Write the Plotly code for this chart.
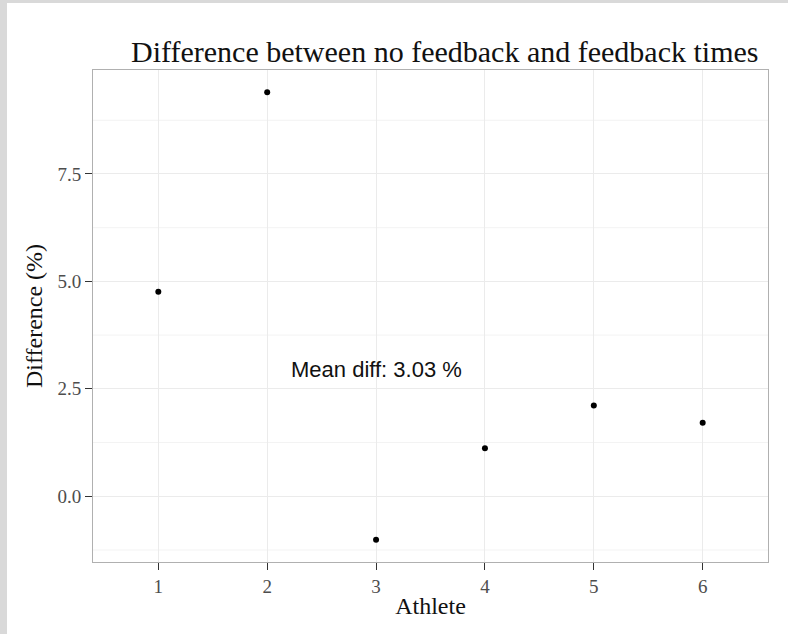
import plotly.graph_objects as go

athletes = [1, 2, 3, 4, 5, 6]
difference = [4.76, 9.40, -1.01, 1.12, 2.11, 1.71]
y_tick_vals = [0.0, 2.5, 5.0, 7.5]
y_tick_text = ["0.0", "2.5", "5.0", "7.5"]
y_minor_vals = [-1.25, 1.25, 3.75, 6.25, 8.75]
x_tick_text = ["1", "2", "3", "4", "5", "6"]
title_text = "Difference between no feedback and feedback times"
mean_label = "Mean diff: 3.03 %"

W, H = 788, 634
L, R, T, B = 93, 20, 70, 72
pw, ph = W - L - R, H - T - B

def px_x(p):
    return (p - L) / pw

def px_y(p):
    return (H - B - p) / ph

serif = "Liberation Serif, Times New Roman, serif"
sans = "Liberation Sans, Arial, sans-serif"

fig = go.Figure()
fig.add_trace(go.Scatter(
    x=athletes, y=difference, mode="markers",
    marker=dict(color="black", size=6),
    showlegend=False, hoverinfo="skip"))

shapes = []
for v in y_minor_vals:
    shapes.append(dict(type="line", xref="paper", yref="y", x0=0, x1=1, y0=v, y1=v,
                       line=dict(color="#f3f3f3", width=1), layer="below"))
shapes.append(dict(type="rect", xref="paper", yref="paper",
                   x0=px_x(0), x1=px_x(7), y0=px_y(H), y1=px_y(0),
                   fillcolor="#d9d9d9", line=dict(width=0), layer="above"))
shapes.append(dict(type="rect", xref="paper", yref="paper",
                   x0=px_x(0), x1=px_x(W), y0=px_y(3), y1=px_y(0),
                   fillcolor="#d9d9d9", line=dict(width=0), layer="above"))

fig.update_layout(
    width=W, height=H,
    margin=dict(l=L, r=R, t=T, b=B),
    paper_bgcolor="white", plot_bgcolor="white",
    shapes=shapes,
    xaxis=dict(range=[0.4, 6.6], tickvals=athletes, ticktext=x_tick_text,
               showgrid=True, gridcolor="#ebebeb", gridwidth=1, zeroline=False,
               showline=True, linecolor="#b0b0b0", linewidth=1, mirror=True,
               ticks="outside", ticklen=7, tickcolor="#333333",
               tickfont=dict(family=serif, size=19, color="#4d4d4d"),
               title=dict(text="Athlete", font=dict(family=serif, size=24, color="#111"),
                          standoff=1)),
    yaxis=dict(range=[-1.53, 9.92], tickvals=y_tick_vals, ticktext=y_tick_text,
               showgrid=True, gridcolor="#ebebeb", gridwidth=1, zeroline=False,
               showline=True, linecolor="#b0b0b0", linewidth=1, mirror=True,
               ticks="outside", ticklen=7, tickcolor="#333333",
               tickfont=dict(family=serif, size=19, color="#4d4d4d"),
               title=dict(text="Difference (%)", font=dict(family=serif, size=24, color="#111"),
                          standoff=8)),
    annotations=[
        dict(text=title_text, xref="paper", yref="paper", x=px_x(444), y=px_y(70),
             xanchor="center", yanchor="bottom", showarrow=False,
             font=dict(family=serif, size=30, color="#111")),
        dict(text=mean_label, x=3, y=2.95, xref="x", yref="y", showarrow=False,
             xanchor="center", yanchor="middle",
             font=dict(family=sans, size=22, color="#111")),
    ],
)

fig.write_html("out.html", config={"displayModeBar": False},
               post_script="document.body.style.margin='0';")
